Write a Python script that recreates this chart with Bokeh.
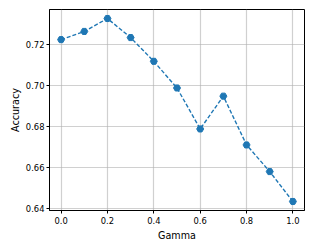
from bokeh.plotting import figure
from bokeh.models import FixedTicker, Range1d
from bokeh.embed import file_html
from bokeh.resources import INLINE

gamma = [0.0, 0.1, 0.2, 0.3, 0.4, 0.5, 0.6, 0.7, 0.8, 0.9, 1.0]
accuracy = [0.7226, 0.7266, 0.7329, 0.7236, 0.7120, 0.6990, 0.6790, 0.6950, 0.6712, 0.6582, 0.6436]
x_ticks = [0.0, 0.2, 0.4, 0.6, 0.8, 1.0]
y_ticks = [0.64, 0.66, 0.68, 0.70, 0.72]

p = figure(width=312, height=249, output_backend="svg", toolbar_location=None,
           x_range=Range1d(-0.05, 1.05), y_range=Range1d(0.6392, 0.7373),
           min_border_left=49, min_border_right=8, min_border_top=9, min_border_bottom=39)
p.outline_line_color = "black"
p.outline_line_width = 1
p.background_fill_color = "white"

p.line(gamma, accuracy, line_color="#1f77b4", line_width=1.4, line_dash="4 2")
p.scatter(gamma, accuracy, marker="hex", size=7, fill_color="#1f77b4", line_color="#1f77b4")

for ax in (p.xaxis[0], p.yaxis[0]):
    ax.axis_line_color = "black"
    ax.major_tick_line_color = "black"
    ax.major_tick_out = 3
    ax.major_tick_in = 0
    ax.minor_tick_line_color = None
    ax.major_label_text_font = "DejaVu Sans"
    ax.major_label_text_font_size = "8.4px"
    ax.major_label_text_color = "black"
    ax.axis_label_text_font = "DejaVu Sans"
    ax.axis_label_text_font_size = "9.6px"
    ax.axis_label_text_font_style = "normal"
    ax.axis_label_text_color = "black"

p.xaxis[0].major_label_standoff = 3
p.yaxis[0].major_label_standoff = 2
p.xaxis[0].ticker = FixedTicker(ticks=x_ticks)
p.xaxis[0].major_label_overrides = {t: f"{t:.1f}" for t in x_ticks}
p.yaxis[0].ticker = FixedTicker(ticks=y_ticks)
p.yaxis[0].major_label_overrides = {t: f"{t:.2f}" for t in y_ticks}
p.xaxis[0].axis_label = "Gamma"
p.yaxis[0].axis_label = "Accuracy"
p.xaxis[0].axis_label_standoff = 3
p.yaxis[0].axis_label_standoff = 2

p.xgrid[0].ticker = FixedTicker(ticks=x_ticks)
p.ygrid[0].ticker = FixedTicker(ticks=y_ticks)
p.grid.grid_line_color = "#b0b0b0"
p.grid.grid_line_alpha = 0.6
p.grid.grid_line_width = 1.2

open("out.html", "w").write(file_html(p, INLINE))
